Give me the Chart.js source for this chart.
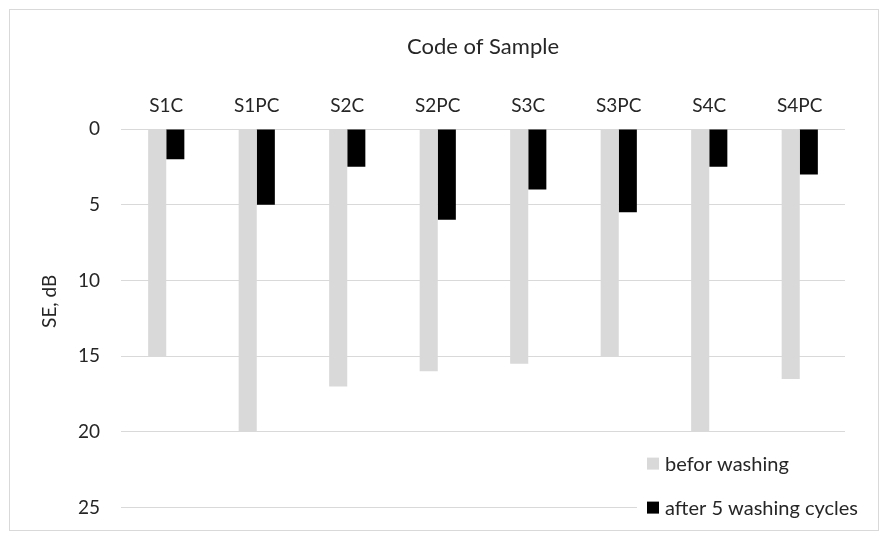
<!DOCTYPE html>
<html>
<head>
<meta charset="utf-8">
<script src="https://cdn.jsdelivr.net/npm/chart.js@4/dist/chart.umd.min.js"></script>
<style>
  html, body { margin: 0; padding: 0; background: #ffffff; }
  #wrap { position: relative; width: 888px; height: 540px; }
  canvas { display: block; }
</style>
</head>
<body>
<div id="wrap"><canvas id="c" width="888" height="540"></canvas></div>
<script>
// Sample codes and shielding effectiveness (SE, dB) per sample
const categories = ['S1C', 'S1PC', 'S2C', 'S2PC', 'S3C', 'S3PC', 'S4C', 'S4PC'];
const beforeWashing = [15, 20, 17, 16, 15.5, 15, 20, 16.5];
const afterWashing = [2, 5, 2.5, 6, 4, 5.5, 2.5, 3];
const seriesNames = ['befor washing', 'after 5 washing cycles'];
const yTicks = [0, 5, 10, 15, 20, 25];
const yTitle = 'SE, dB';
const xTitle = 'Code of Sample';

const FONT = 'Lato, "Open Sans", "Liberation Sans", sans-serif';
const TEXT = '#262626';
const GRID = '#d9d9d9';
const COLORS = ['#d9d9d9', '#000000'];

// Outer frame of the chart
const framePlugin = {
  id: 'frame',
  beforeDraw(chart) {
    const ctx = chart.ctx;
    ctx.save();
    ctx.fillStyle = '#ffffff';
    ctx.fillRect(0, 0, chart.width, chart.height);
    ctx.strokeStyle = GRID;
    ctx.lineWidth = 1;
    ctx.strokeRect(9.5, 9.5, chart.width - 19, chart.height - 19);
    ctx.restore();
  }
};

// Rotated value-axis title, placed left of the tick labels
const yTitlePlugin = {
  id: 'yTitle',
  afterDraw(chart) {
    const ctx = chart.ctx;
    const area = chart.chartArea;
    ctx.save();
    ctx.translate(50, (area.top + area.bottom) / 2 - 17);
    ctx.rotate(-Math.PI / 2);
    ctx.font = '19px ' + FONT;
    ctx.fillStyle = TEXT;
    ctx.textAlign = 'center';
    ctx.textBaseline = 'middle';
    ctx.fillText(yTitle, 0, 0);
    ctx.restore();
  }
};

// Legend drawn inside the plot, bottom-right, stacked vertically
const insideLegend = {
  id: 'insideLegend',
  afterDraw(chart) {
    const ctx = chart.ctx;
    const area = chart.chartArea;
    const x0 = area.right - 198;
    const rows = [area.bottom - 44, area.bottom];
    ctx.save();
    ctx.fillStyle = '#ffffff';
    ctx.fillRect(x0 - 10, rows[1] - 12, area.right - x0 + 20, 24);
    ctx.font = '20px ' + FONT;
    ctx.textBaseline = 'middle';
    ctx.textAlign = 'left';
    chart.data.datasets.forEach((ds, i) => {
      const y = rows[i];
      ctx.fillStyle = ds.backgroundColor;
      ctx.fillRect(x0, y - 6, 12, 12);
      ctx.fillStyle = TEXT;
      ctx.fillText(ds.label, x0 + 18, y + 1);
    });
    ctx.restore();
  }
};

new Chart(document.getElementById('c'), {
  type: 'bar',
  data: {
    labels: categories,
    datasets: [
      { label: seriesNames[0], data: beforeWashing, backgroundColor: COLORS[0] },
      { label: seriesNames[1], data: afterWashing, backgroundColor: COLORS[1] }
    ]
  },
  options: {
    responsive: false,
    animation: false,
    devicePixelRatio: 1,
    layout: { padding: { left: 0, right: 43, top: 20, bottom: 32 } },
    datasets: { bar: { categoryPercentage: 0.4, barPercentage: 1.0 } },
    plugins: {
      legend: { display: false },
      tooltip: { enabled: false }
    },
    scales: {
      x: {
        position: 'top',
        grid: { display: false, drawTicks: false },
        border: { display: false },
        ticks: { color: TEXT, font: { family: FONT, size: 19 }, padding: 12 },
        title: {
          display: true,
          text: xTitle,
          color: TEXT,
          font: { family: FONT, size: 22 },
          padding: { top: 14, bottom: 0 }
        },
        afterFit(s) { s.height = 109; }
      },
      y: {
        reverse: true,
        min: 0,
        max: 25,
        afterBuildTicks(s) { s.ticks = yTicks.map(v => ({ value: v })); },
        grid: { color: GRID, lineWidth: 1, drawTicks: false },
        border: { display: false },
        ticks: { color: TEXT, font: { family: FONT, size: 19 }, padding: 21 },
        afterFit(s) { s.width = 121; }
      }
    }
  },
  plugins: [framePlugin, yTitlePlugin, insideLegend]
});
</script>
</body>
</html>
